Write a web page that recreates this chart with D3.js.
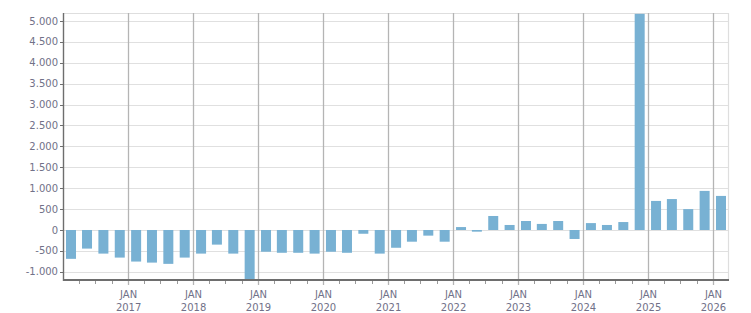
<!DOCTYPE html>
<html>
<head>
<meta charset="utf-8">
<script src="https://cdn.jsdelivr.net/npm/d3@7"></script>
<style>
  html, body { margin: 0; padding: 0; background: #ffffff; }
  svg { display: block; }
  text { font-family: "DejaVu Sans", Verdana, sans-serif; font-size: 10px; fill: #717188; }
</style>
</head>
<body>
<svg id="chart" width="751" height="313"></svg>
<script>
// Quarterly periods (year, quarter 1-4)
const quarters = [
  "2016-Q1","2016-Q2","2016-Q3","2016-Q4",
  "2017-Q1","2017-Q2","2017-Q3","2017-Q4",
  "2018-Q1","2018-Q2","2018-Q3","2018-Q4",
  "2019-Q1","2019-Q2","2019-Q3","2019-Q4",
  "2020-Q1","2020-Q2","2020-Q3","2020-Q4",
  "2021-Q1","2021-Q2","2021-Q3","2021-Q4",
  "2022-Q1","2022-Q2","2022-Q3","2022-Q4",
  "2023-Q1","2023-Q2","2023-Q3","2023-Q4",
  "2024-Q1","2024-Q2","2024-Q3","2024-Q4",
  "2025-Q1","2025-Q2","2025-Q3","2025-Q4",
  "2026-Q1"
];
const values = [
  -690, -445, -565, -660,
  -755, -780, -810, -660,
  -565, -350, -565, -1250,
  -520, -545, -545, -565,
  -520, -545, -90, -565,
  -425, -280, -135, -280,
  70, -40, 335, 120,
  215, 145, 215, -215,
  165, 120, 190, 5170,
  695, 740, 500, 935,
  815
];
const yTicks = [-1000, -500, 0, 500, 1000, 1500, 2000, 2500, 3000, 3500, 4000, 4500, 5000];
const xYearLabels = ["2017","2018","2019","2020","2021","2022","2023","2024","2025","2026"];
const monthLabel = "JAN";

(function () {
const svg = d3.select("#chart");
const pL = 63, pR = 729, pT = 13, pB = 281;

const x = d3.scaleTime()
  .domain([new Date(2016, 0, 1), new Date(2026, 3, 1)])
  .range([pL, pR]);
const y = d3.scaleLinear()
  .domain([-1220, 5190])
  .range([pB, pT]);

const loc = d3.formatLocale({decimal: ",", thousands: ".", grouping: [3], currency: ["", "€"], minus: "-"});
const fmt = loc.format(",d");

function qDate(q) {
  const [yr, qq] = q.split("-Q").map(Number);
  return new Date(yr, (qq - 1) * 3 + 1, 15);
}

// horizontal gridlines
svg.append("g").selectAll("line").data(yTicks).join("line")
  .attr("x1", pL).attr("x2", pR)
  .attr("y1", d => Math.round(y(d)) + 0.5).attr("y2", d => Math.round(y(d)) + 0.5)
  .attr("stroke", "#e0e0e0").attr("stroke-width", 1.2);

// frame top and right
svg.append("line").attr("x1", pL).attr("x2", pR).attr("y1", pT + 0.5).attr("y2", pT + 0.5)
  .attr("stroke", "#dedede").attr("stroke-width", 1.2);
svg.append("line").attr("x1", pR - 0.5).attr("x2", pR - 0.5).attr("y1", pT).attr("y2", pB)
  .attr("stroke", "#dedede").attr("stroke-width", 1.2);

// vertical year gridlines
const yearDates = xYearLabels.map(yr => new Date(+yr, 0, 1));
svg.append("g").selectAll("line").data(yearDates).join("line")
  .attr("x1", d => Math.round(x(d)) + 0.5).attr("x2", d => Math.round(x(d)) + 0.5)
  .attr("y1", pT).attr("y2", pB + 4)
  .attr("stroke", "#b4b4b4").attr("stroke-width", 1.3);

// minor quarter ticks
const qTicks = d3.timeMonth.every(3).range(new Date(2016, 3, 1), new Date(2026, 3, 1))
  .filter(d => d.getMonth() !== 0);
svg.append("g").selectAll("line").data(qTicks).join("line")
  .attr("x1", d => Math.round(x(d)) + 0.5).attr("x2", d => Math.round(x(d)) + 0.5)
  .attr("y1", pB).attr("y2", pB + 3)
  .attr("stroke", "#9a9a9a").attr("stroke-width", 1);

// bars
svg.append("clipPath").attr("id", "plotclip").append("rect")
  .attr("x", pL).attr("y", pT).attr("width", pR - pL).attr("height", pB - pT - 1);
const bw = 10;
svg.append("g").attr("clip-path", "url(#plotclip)")
  .selectAll("rect").data(quarters.map((q, i) => ({q, v: values[i]}))).join("rect")
  .attr("x", d => x(qDate(d.q)) - bw / 2)
  .attr("width", bw)
  .attr("y", d => y(Math.max(0, d.v)))
  .attr("height", d => Math.abs(y(d.v) - y(0)))
  .attr("fill", "#78b1d3");

// axes lines
svg.append("line").attr("x1", pL).attr("x2", pR).attr("y1", pB - 1).attr("y2", pB - 1)
  .attr("stroke", "#6e6e6e").attr("stroke-width", 2.2);
svg.append("line").attr("x1", pL + 0.5).attr("x2", pL + 0.5).attr("y1", pT).attr("y2", pB)
  .attr("stroke", "#6e6e6e").attr("stroke-width", 1.4);

// y ticks and labels
const yg = svg.append("g");
yg.selectAll("line").data(yTicks).join("line")
  .attr("x1", pL - 3).attr("x2", pL)
  .attr("y1", d => Math.round(y(d)) + 0.5).attr("y2", d => Math.round(y(d)) + 0.5)
  .attr("stroke", "#6e6e6e").attr("stroke-width", 1);
yg.selectAll("text").data(yTicks).join("text")
  .attr("x", pL - 5).attr("y", d => y(d) + 3.6)
  .attr("text-anchor", "end")
  .text(d => fmt(d));

// x labels
const xg = svg.append("g");
xg.selectAll("text.m").data(yearDates).join("text").attr("class", "m")
  .attr("x", d => x(d) + 0.5).attr("y", 298)
  .attr("text-anchor", "middle").text(monthLabel);
xg.selectAll("text.yr").data(xYearLabels).join("text").attr("class", "yr")
  .attr("x", (d, i) => x(yearDates[i]) + 0.5).attr("y", 311)
  .attr("text-anchor", "middle").text(d => d);
})();
</script>
</body>
</html>
